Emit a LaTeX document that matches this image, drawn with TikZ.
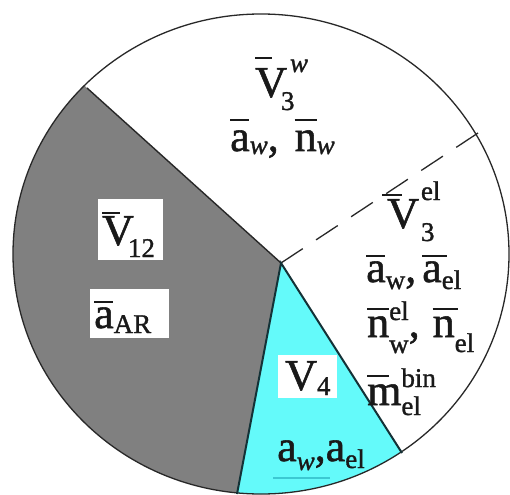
\documentclass[tikz,border=0pt]{standalone}
\usepackage{fontspec}
\setmainfont{Liberation Serif}[FakeBold=1.2]
\usetikzlibrary{calc}
\definecolor{pgray}{RGB}{128,128,128}
\definecolor{pcyan}{RGB}{100,250,250}
\definecolor{pline}{RGB}{40,40,40}
\definecolor{cline}{RGB}{20,50,55}
\definecolor{uline}{RGB}{60,200,210}
\newcommand\bigf{\fontsize{44}{48}\selectfont}
\newcommand\smf{\fontsize{27}{30}\selectfont}
\newcommand\ovl[4]{\rlap{\kern#2\raisebox{#1}{\rule{#3}{2.2pt}}}#4}
\newcommand\su[2]{\raisebox{#1}{\smf #2}}
\begin{document}
\begin{tikzpicture}[x=1pt,y=-1pt,
  lbl/.style={anchor=base west,inner sep=0pt,font=\bigf,text=black!90},
  wbox/.style={fill=white,inner sep=0pt,draw=none}]
\useasboundingbox (0,0) rectangle (510,494);
\fill[white] (0,0) rectangle (510,494);
\coordinate (O) at (281,263);
\coordinate (P1) at (87,88);
\coordinate (P2) at (478,133);
\coordinate (P3) at (237,494);
\coordinate (P4) at (402,453);
\begin{scope}
\clip (261,254) ellipse [x radius=248pt, y radius=240pt];
\fill[pgray] (O) -- ($(O)!2!(P1)$) -- (-120,620) -- ($(O)!1.6!(P3)$) -- cycle;
\fill[pcyan] (O) -- ($(O)!1.6!(P3)$) -- ($(O)!1.6!(P4)$) -- cycle;
\end{scope}
\draw[pline, line width=1.3pt] (261,254) ellipse [x radius=248pt, y radius=240pt];
\draw[pline, line width=1.4pt] (O) -- (P1);
\draw[pline, line width=1.3pt, dash pattern=on 26pt off 16pt] (O) -- (P2);
\draw[cline, line width=2pt] (P3) -- (O) -- (P4);
% boxes
\node[wbox, minimum width=65pt, minimum height=61pt] (b12) at (130.5,229.5) {};
\node[wbox, minimum width=79pt, minimum height=49pt] (bar) at (129.5,313.5) {};
\node[wbox, minimum width=59pt, minimum height=43pt] (b4) at (307.5,376.5) {};
% labels
\node[lbl] (v3w) at (255,97) {\ovl{38pt}{0pt}{17pt}{V}\rlap{\kern3pt\su{25pt}{\itshape w}}\kern-6pt\su{-13pt}{3}};
\node[lbl] (awnw) at (230,151) {\ovl{30pt}{0pt}{19pt}{a}\su{-3pt}{\itshape w},\kern16pt\ovl{30pt}{0pt}{22pt}{n}\su{-3pt}{\itshape w}};
\node[lbl] (v3el) at (387,228) {\ovl{32pt}{-5pt}{20pt}{V}\rlap{\kern2pt\su{28pt}{el}}\kern2pt\su{-13pt}{3}};
\node[lbl] (awael) at (366,282) {\ovl{25pt}{0pt}{19pt}{a}\su{-7pt}{w},\kern6pt\ovl{25pt}{0pt}{25pt}{a}\su{-7pt}{el}};
\node[lbl] (nwel) at (367,337) {\ovl{27pt}{0pt}{22pt}{n}\rlap{\su{17pt}{el}}\su{-16pt}{w},\kern13pt\ovl{27pt}{0pt}{25pt}{n}\su{-15pt}{el}};
\node[lbl] (mbin) at (367,405) {\ovl{28pt}{0pt}{22pt}{m}\rlap{\su{18pt}{bin}}\su{-10pt}{el}};
\node[lbl] (v12) at (102,245) {\ovl{31pt}{0pt}{18pt}{V}\kern-6pt\su{-12pt}{12}};
\node[lbl] (aar) at (94,328) {\ovl{25pt}{0pt}{19pt}{a}\su{-5pt}{AR}};
\node[lbl] (v4) at (285,390) {V\su{-5pt}{4}};
\node[lbl] (aw4) at (277,461) {a\su{-9pt}{\itshape w},a\su{-7pt}{el}};
\draw[uline, line width=1.5pt] (273,478) -- (330,478);
\end{tikzpicture}
\end{document}
